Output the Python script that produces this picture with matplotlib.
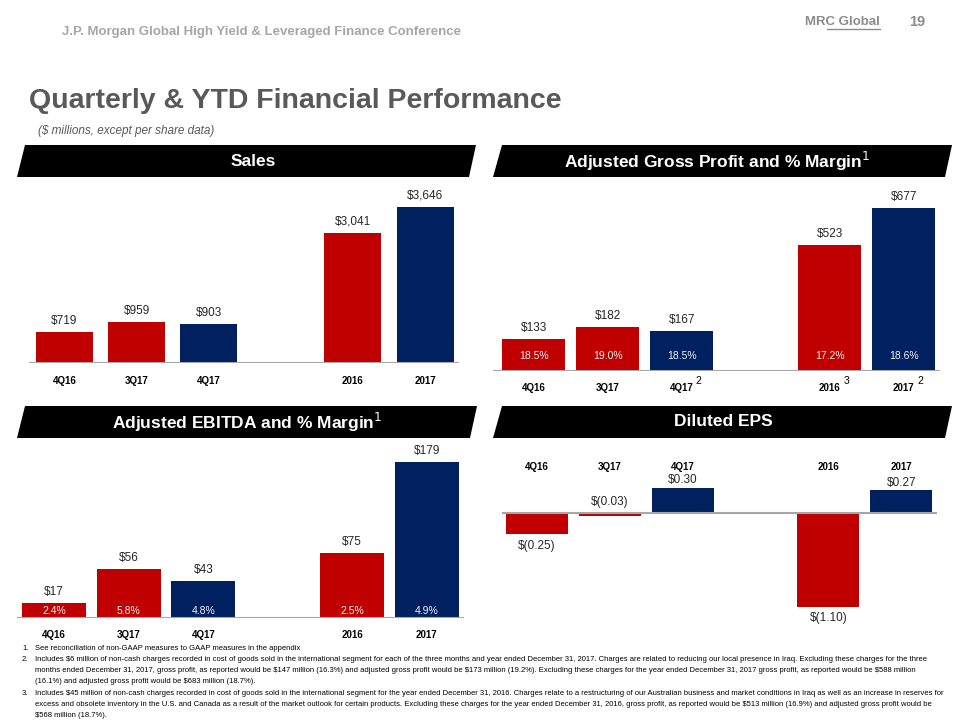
import matplotlib
matplotlib.use("Agg")
import matplotlib.pyplot as plt
from matplotlib import font_manager
from matplotlib.patches import Polygon

# pick fonts that exist here
names = {f.name for f in font_manager.fontManager.ttflist}
NARROW = 'Liberation Sans Narrow' if 'Liberation Sans Narrow' in names else 'Liberation Sans'
SANS = 'Liberation Sans'

RED = '#C00000'
NAVY = '#002060'
GRAY_LINE = '#A6A6A6'

# ---- data ----
periods = ['4Q16', '3Q17', '4Q17', '2016', '2017']
slots = [0, 1, 2, 4, 5]
bar_colors = [RED, RED, NAVY, RED, NAVY]

sales = [719, 959, 903, 3041, 3646]
sales_labels = ['$719', '$959', '$903', '$3,041', '$3,646']

gross_profit = [133, 182, 167, 523, 677]
gross_labels = ['$133', '$182', '$167', '$523', '$677']
gross_margin = ['18.5%', '19.0%', '18.5%', '17.2%', '18.6%']
gross_notes = ['', '', '2', '3', '2']

ebitda = [17, 56, 43, 75, 179]
ebitda_labels = ['$17', '$56', '$43', '$75', '$179']
ebitda_margin = ['2.4%', '5.8%', '4.8%', '2.5%', '4.9%']

eps = [-0.25, -0.03, 0.30, -1.10, 0.27]
eps_labels = ['$(0.25)', '$(0.03)', '$0.30', '$(1.10)', '$0.27']

footnotes = [
    ("1.", ["See reconciliation of non-GAAP measures to GAAP measures in the appendix"]),
    ("2.", ["Includes \\$6 million of non-cash charges recorded in cost of goods sold in the international segment for each of the three months and year ended December 31, 2017. Charges are related to reducing our local presence in Iraq. Excluding these charges for the three",
            "months ended December 31, 2017, gross profit, as reported would be \\$147 million (16.3%) and adjusted gross profit would be \\$173 million (19.2%). Excluding these charges for the year ended December 31, 2017 gross profit, as reported would be \\$588 million",
            "(16.1%) and adjusted gross profit would be \\$683 million (18.7%)."]),
    ("3.", ["Includes \\$45 million of non-cash charges recorded in cost of goods sold in the international segment for the year ended December 31, 2016. Charges relate to a restructuring of our Australian business and market conditions in Iraq as well as an increase in reserves for",
            "excess and obsolete inventory in the U.S. and Canada as a result of the market outlook for certain products. Excluding these charges for the year ended December 31, 2016, gross profit, as reported would be \\$513 million (16.9%) and adjusted gross profit would be",
            "\\$568 million (18.7%)."]),
]

W, H = 960, 720
fig = plt.figure(figsize=(9.6, 7.2), dpi=100)
fig.patch.set_facecolor('white')


def box(x0, y0, x1, y1):
    # pixel box (top-left origin) -> figure fraction rect
    return [x0 / W, 1 - y1 / H, (x1 - x0) / W, (y1 - y0) / H]


def banner(x_bl, x_tl, x_tr, x_br, y_top, y_bot, title, tx):
    pts = [(x_bl / W, 1 - y_bot / H), (x_tl / W, 1 - y_top / H),
           (x_tr / W, 1 - y_top / H), (x_br / W, 1 - y_bot / H)]
    fig.patches.append(Polygon(pts, closed=True, transform=fig.transFigure,
                               facecolor='black', edgecolor='none'))
    fig.text(tx / W, 1 - (y_top + y_bot) / 2 / H, title, color='white',
             fontsize=12.5, fontweight='bold', family=NARROW,
             ha='center', va='center')


def bar_panel(rect, values, width, ymax, labels, margins=None, margin_off=0,
              notes=None, xlim=(-0.5, 5.5)):
    ax = fig.add_axes(rect)
    ax.bar(slots, values, width=width, color=bar_colors, zorder=2)
    ax.set_xlim(*xlim)
    ax.set_ylim(0, ymax)
    for s in ax.spines.values():
        s.set_visible(False)
    ax.set_yticks([])
    ax.axhline(0, color=GRAY_LINE, lw=1.5, zorder=3)
    ax.set_xticks(slots)
    ax.set_xticklabels(periods, fontsize=7, fontweight='bold', family=SANS)
    ax.tick_params(axis='x', length=0, pad=9)
    for x, v, lab in zip(slots, values, labels):
        ax.annotate(lab, xy=(x, v), xytext=(0, 11), textcoords='offset pixels',
                    ha='center', va='center', fontsize=8.5, family=SANS,
                    color='#262626')
    if margins:
        for x, m in zip(slots, margins):
            ax.annotate(m, xy=(x, 0), xytext=(0, margin_off),
                        textcoords='offset pixels', ha='center', va='center',
                        fontsize=7.5, family=SANS, color='#F2F2F2', zorder=4)
    if notes:
        for x, n in zip(slots, notes):
            if n:
                ax.annotate(n, xy=(x, 0), xytext=(17, -10),
                            textcoords='offset pixels', ha='center',
                            va='center', fontsize=7.5, family=SANS)
    return ax


# ---- header ----
fig.text(62 / W, 1 - 32 / H, 'J.P. Morgan Global High Yield & Leveraged Finance Conference',
         fontsize=9.5, fontweight='bold', family=NARROW, color='#A6A6A6',
         va='center')
fig.text(880 / W, 1 - 22 / H, 'MRC Global', fontsize=9.5, fontweight='bold',
         family=SANS, color='#8C8C8C', ha='right', va='center')
fig.add_artist(plt.Line2D([827 / W, 880 / W], [1 - 29 / H, 1 - 29 / H],
                          color='#8C8C8C', lw=1))
fig.text(925 / W, 1 - 22 / H, '19', fontsize=10.5, fontweight='bold',
         family=SANS, color='#8C8C8C', ha='right', va='center')
fig.text(29 / W, 1 - 101 / H, 'Quarterly & YTD Financial Performance',
         fontsize=20.5, fontweight='bold', family=NARROW, color='#595959',
         va='center')
fig.text(38 / W, 1 - 131 / H, '(\\$ millions, except per share data)',
         fontsize=8.5, style='italic', family=SANS, color='#595959', va='center')

# ---- banners ----
banner(17, 25, 476, 469, 145, 177, 'Sales', 253)
banner(493, 502, 952, 945, 145, 177, 'Adjusted Gross Profit and % Margin$^{1}$', 717)
banner(17, 25, 477, 470, 406, 438, 'Adjusted EBITDA and % Margin$^{1}$', 247)
banner(493, 502, 952, 945, 406, 438, 'Diluted EPS', 723)

# ---- Sales ----
bar_panel(box(29, 190, 459, 363), sales, 0.79, 3646 * 173 / 156,
          sales_labels, xlim=(-0.49, 5.47))

# ---- Gross profit ----
bar_panel(box(493, 190, 940, 371), gross_profit, 0.85, 677 * 181 / 163,
          gross_labels, margins=gross_margin, margin_off=15,
          notes=gross_notes, xlim=(-0.55, 5.49))

# ---- EBITDA ----
bar_panel(box(17, 445, 464, 618), ebitda, 0.86, 179 * 173 / 156,
          ebitda_labels, margins=ebitda_margin, margin_off=7,
          xlim=(-0.5, 5.5))

# ---- EPS ----
ax = fig.add_axes(box(502, 478, 937, 640))
ax.bar(slots, eps, width=0.85, color=bar_colors, zorder=2)
ax.set_xlim(-0.48, 5.49)
ax.set_ylim(-127 / 85, 35 / 85)
for s in ax.spines.values():
    s.set_visible(False)
ax.set_yticks([])
ax.axhline(0, color=GRAY_LINE, lw=1.5, zorder=3)
ax.set_xticks(slots)
ax.set_xticklabels(periods, fontsize=7, fontweight='bold', family=SANS)
ax.tick_params(axis='x', length=0, top=True, labeltop=True, bottom=False,
               labelbottom=False, pad=4)
for x, v, lab in zip(slots, eps, eps_labels):
    if v >= 0:
        off = 7
        y = v
    elif abs(v) < 0.1:
        off = 11
        y = 0
    else:
        off = -12
        y = v
    ax.annotate(lab, xy=(x, y), xytext=(0, off), textcoords='offset pixels',
                ha='center', va='center', fontsize=8.5, family=SANS,
                color='#262626')

# ---- footnotes ----
y = 648
for num, lines in footnotes:
    fig.text(22 / W, 1 - y / H, num, fontsize=5.5, family=NARROW, va='center')
    for line in lines:
        fig.text(35 / W, 1 - y / H, line, fontsize=5.5, family=NARROW,
                 va='center')
        y += 11.3

fig.savefig('out.png', dpi=100)
